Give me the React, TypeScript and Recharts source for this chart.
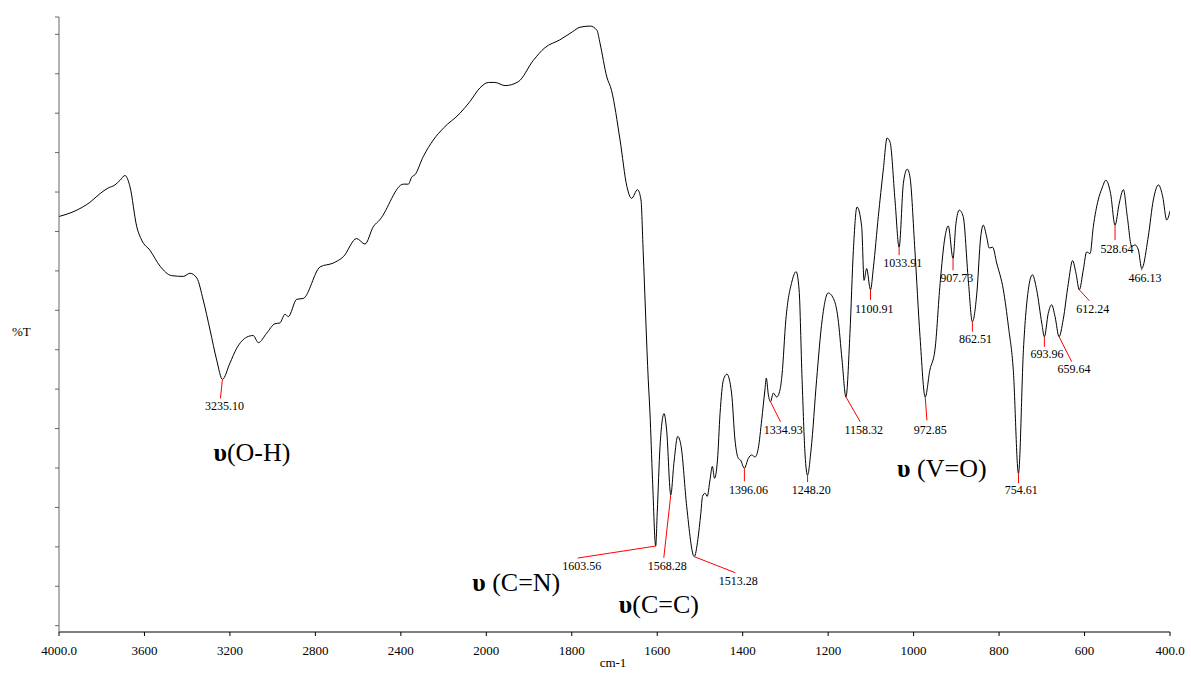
import { LineChart, Line, XAxis, YAxis, ReferenceDot } from "recharts";

// wavenumber (cm-1), descending
const wavenumbers = [
  4000, 3925, 3855, 3808, 3771, 3738, 3714, 3691, 3668, 3636, 3613, 3574, 3527, 3473, 3418, 3387, 3355, 3325, 3293, 3262,
  3235.1, 3200, 3168, 3121, 3091, 3067, 3028, 2989, 2966, 2942, 2927, 2887, 2857, 2778, 2716, 2669, 2607, 2568, 2529, 2498,
  2388, 2365, 2349, 2334, 2295, 2248, 2201, 2123, 2076, 2030, 1995, 1980, 1956, 1925, 1890, 1863, 1828, 1799, 1781, 1757,
  1741, 1734, 1718, 1707, 1687, 1671, 1660, 1646, 1638, 1633, 1621, 1617, 1611, 1603.56, 1600, 1593.5, 1584, 1578, 1568.28,
  1561, 1552, 1544, 1531, 1513.28, 1505, 1498, 1494, 1488, 1483, 1476.5, 1471, 1466, 1459, 1453, 1445, 1437, 1426, 1418,
  1410, 1405, 1396.06, 1387, 1379, 1371, 1363.5, 1355.5, 1348, 1344.7, 1340, 1334.93, 1328.4, 1320.4, 1312.7, 1308, 1299,
  1285, 1275, 1268, 1261, 1254, 1248.2, 1240, 1227, 1214, 1200, 1186, 1177, 1167.5, 1158.32, 1149, 1141, 1132.5, 1121.5,
  1116, 1110, 1100.91, 1094, 1082.6, 1071, 1062, 1055, 1043.6, 1033.91, 1024, 1015, 1008.5, 997, 985, 972.85, 962, 950,
  938, 926.6, 919, 907.73, 901, 893, 884, 872, 862.51, 852, 843, 837, 829, 823, 815, 805.6, 790, 778, 766.7, 754.61, 743,
  731.6, 722, 712, 700, 693.96, 685, 677, 669, 659.64, 650, 638, 628, 620, 612.24, 603, 595, 587, 579.5, 568, 559, 550,
  539, 528.64, 518.7, 509, 500, 489.6, 482, 474, 466.13, 451, 439, 427, 417, 407.7, 400,
];

// %T (arbitrary units)
const transmittance = [
  51.9, 52.6, 53.7, 54.8, 55.5, 55.9, 56.5, 57.1, 55.7, 50.6, 48.9, 47.6, 45.6, 44.4, 44.3, 44.7, 44.1, 41.3, 37.5, 33.7,
  31.25, 33.3, 35.2, 36.6, 36.8, 35.9, 37.1, 38.3, 38.4, 39.5, 39.2, 41.4, 41.5, 45.5, 46.0, 46.8, 49.1, 48.4, 50.6, 51.5,
  56.0, 56.0, 56.9, 57.2, 59.5, 61.6, 63.1, 65.0, 66.5, 68.2, 68.9, 68.9, 68.5, 69.0, 71.7, 73.3, 74.3, 75.3, 75.9, 76.05,
  75.5, 73.9, 69.6, 67.9, 61.6, 55.7, 54.2, 55.3, 54.0, 47.6, 31.2, 27.0, 18.5, 10.1, 14.3, 22.7, 26.9, 24.8, 16.6,
  20.6, 24.0, 22.7, 15.1, 8.75, 10.9, 14.25, 16.4, 16.8, 16.4, 18.5, 20.2, 18.7, 21.0, 26.9, 31.2, 31.9, 29.5, 23.55,
  21.2, 21.0, 19.96, 21.2, 21.65, 21.4, 22.5, 26.1, 29.9, 31.4, 29.3, 28.4, 29.5, 29.0, 29.9, 31.8, 38.8,
  43.6, 44.9, 42.6, 31.2, 21.65, 19.1, 22.3, 31.2, 38.8, 42.2, 41.3, 39.0, 33.7, 29.0, 37.1, 47.6, 53.1, 50.6,
  43.8, 45.3, 42.6, 45.5, 51.9, 57.8, 61.85, 61.3, 54.0, 48.0, 56.1, 57.9, 56.9, 47.6, 36.65, 29.0, 32.4, 35.0,
  43.4, 49.3, 50.7, 46.6, 51.0, 52.7, 51.9, 43.8, 38.55, 42.2, 49.3, 50.8, 49.3, 47.9, 48.0, 46.0, 42.6, 37.9, 32.4, 19.3, 35.0,
  42.6, 44.5, 42.6, 38.35, 36.65, 39.6, 40.7, 39.2, 36.65, 38.8, 43.4, 46.3, 44.7, 42.6, 45.1, 47.4, 47.2, 50.6, 54.0, 55.5, 56.5,
  54.8, 50.8, 53.6, 55.3, 51.9, 48.1, 48.3, 47.65, 45.3, 49.3, 54.0, 55.9, 54.4, 51.45, 52.6,
];

const xTickWavenumbers = [4000, 3600, 3200, 2800, 2400, 2000, 1800, 1600, 1400, 1200, 1000, 800, 600, 400];
const xTickLabels = ["4000.0", "3600", "3200", "2800", "2400", "2000", "1800", "1600", "1400", "1200", "1000", "800", "600", "400.0"];
const yTicks = [0, 5, 10, 15, 20, 25, 30, 35, 40, 45, 50, 55, 60, 65, 70, 75, 77.2];

const peakWavenumbers = [
  3235.1, 1603.56, 1568.28, 1513.28, 1396.06, 1334.93, 1248.2, 1158.32, 1100.91, 1033.91,
  972.85, 907.73, 862.51, 754.61, 693.96, 659.64, 612.24, 528.64, 466.13,
];
const peakLabels = [
  "3235.10", "1603.56", "1568.28", "1513.28", "1396.06", "1334.93", "1248.20", "1158.32", "1100.91", "1033.91",
  "972.85", "907.73", "862.51", "754.61", "693.96", "659.64", "612.24", "528.64", "466.13",
];
// pixel offsets from the peak: [lineDx, lineDy, textDx, textDy(center)]
const peakOffsets = [
  [-2, 19, 2, 27], [-78, 12, -74, 20], [-7, 63, -3.5, 71], [41, 16, 44, 24], [0, 13, 4, 22],
  [10, 20, 12.7, 28.3], [0, 7, 3.7, 15], [14.3, 24.7, 17.8, 33], [0, 10, 3.8, 19.3], [0, 8, 3.6, 15.7],
  [1.7, 23.3, 5, 33.3], [0, 12, 3.8, 20], [0, 10, 3.1, 17.6], [0, 9.7, 2.7, 16.7], [0, 10, 2.7, 17.3],
  [12.7, 25, 15, 32.6], [10.1, 11, 13.5, 19.3], [0, 15, 2, 24.3], [0, 1.7, 3.3, 9.4],
];

const bandLabels = ["υ(O-H)", "υ (C=N)", "υ(C=C)", "υ (V=O)"];
const bandWavenumbers = [3097, 1930, 1596, 934];
const bandLevels = [22.0, 5.5, 2.75, 20.0];

// spectrum axis: 4000-2000 compressed 2x relative to 2000-400
const toAxis = (w: number) => (w >= 2000 ? (4000 - w) / 2 : 3000 - w);

const data = wavenumbers.map((w, i) => ({ u: toAxis(w), t: transmittance[i] }));
const xTicks = xTickWavenumbers.map(toAxis);
const tickLabelOf = (u: number) => xTickLabels[xTicks.indexOf(u)] ?? "";

const FONT = "'Liberation Serif', 'Times New Roman', serif";

function PeakMark(props: any) {
  const vb = props.viewBox || {};
  const x = vb.x ?? props.x;
  const y = vb.y ?? props.y;
  const [ldx, ldy, tdx, tdy] = props.off;
  return (
    <g>
      <line x1={x} y1={y} x2={x + ldx} y2={y + ldy} stroke="#ff0000" strokeWidth={1} />
      <text x={x + tdx} y={y + tdy + 4} textAnchor="middle" fontSize={12} fontFamily={FONT} fill="#000">
        {props.text}
      </text>
    </g>
  );
}

function BandMark(props: any) {
  const vb = props.viewBox || {};
  const x = vb.x ?? props.x;
  const y = vb.y ?? props.y;
  const s: string = props.text;
  return (
    <text x={x} y={y + 9} textAnchor="middle" fontSize={26} fontFamily={FONT} fill="#000">
      <tspan fontWeight="bold">{s.charAt(0)}</tspan>
      <tspan>{s.slice(1)}</tspan>
    </text>
  );
}

export default function App() {
  return (
    <div style={{ position: "absolute", left: 0, top: 0, width: 1191, height: 673, background: "#fff", fontFamily: FONT }}>
      <LineChart width={1191} height={673} data={data} margin={{ top: 17, right: 21, bottom: 0, left: 0 }}>
        <XAxis
          dataKey="u"
          type="number"
          domain={[0, 2600]}
          ticks={xTicks}
          tickFormatter={tickLabelOf}
          interval={0}
          height={41}
          tickSize={4}
          tickMargin={10}
          stroke="#000"
          tick={{ fill: "#000", fontSize: 13, fontFamily: FONT }}
          allowDataOverflow
          label={(p: any) => (
            <text
              x={p.viewBox.x + p.viewBox.width / 2 - 1.5}
              y={667}
              textAnchor="middle"
              fontSize={13}
              fontFamily={FONT}
              fill="#000"
            >
              cm-1
            </text>
          )}
        />
        <YAxis
          type="number"
          domain={[-0.8, 77.2]}
          ticks={yTicks}
          interval={0}
          width={59}
          tickSize={4}
          tick={() => <g />}
          stroke="#666"
          allowDataOverflow
          label={() => (
            <text x={12} y={336} textAnchor="start" fontSize={13} fontFamily={FONT} fill="#000">
              %T
            </text>
          )}
        />
        <Line
          type="monotone"
          dataKey="t"
          stroke="#000"
          strokeWidth={1}
          dot={false}
          isAnimationActive={false}
        />
        {peakWavenumbers.map((w, i) => {
          const idx = wavenumbers.indexOf(w);
          return (
            <ReferenceDot
              key={"p" + i}
              x={toAxis(w)}
              y={transmittance[idx]}
              r={0}
              stroke="none"
              fill="none"
              ifOverflow="visible"
              label={(p: any) => <PeakMark {...p} text={peakLabels[i]} off={peakOffsets[i]} />}
            />
          );
        })}
        {bandLabels.map((s, i) => (
          <ReferenceDot
            key={"b" + i}
            x={toAxis(bandWavenumbers[i])}
            y={bandLevels[i]}
            r={0}
            stroke="none"
            fill="none"
            ifOverflow="visible"
            label={(p: any) => <BandMark {...p} text={s} />}
          />
        ))}
      </LineChart>
    </div>
  );
}
